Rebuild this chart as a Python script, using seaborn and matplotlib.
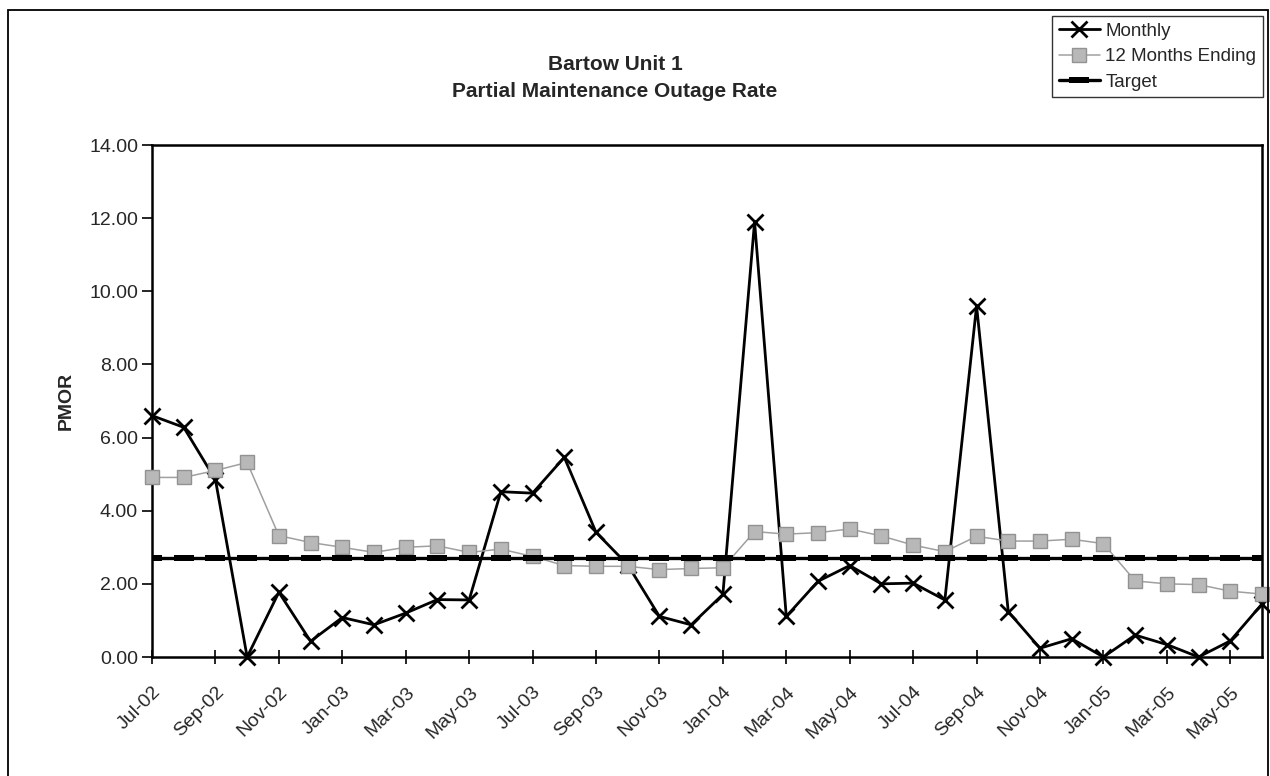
import pandas as pd
import matplotlib.pyplot as plt
import seaborn as sns
from matplotlib.patches import Rectangle

# Category axis: monthly, Jul-02 .. Jun-05
months = [
    'Jul-02', 'Aug-02', 'Sep-02', 'Oct-02', 'Nov-02', 'Dec-02',
    'Jan-03', 'Feb-03', 'Mar-03', 'Apr-03', 'May-03', 'Jun-03',
    'Jul-03', 'Aug-03', 'Sep-03', 'Oct-03', 'Nov-03', 'Dec-03',
    'Jan-04', 'Feb-04', 'Mar-04', 'Apr-04', 'May-04', 'Jun-04',
    'Jul-04', 'Aug-04', 'Sep-04', 'Oct-04', 'Nov-04', 'Dec-04',
    'Jan-05', 'Feb-05', 'Mar-05', 'Apr-05', 'May-05', 'Jun-05',
]

monthly = [
    6.60, 6.28, 4.85, 0.00, 1.77, 0.43,
    1.08, 0.88, 1.20, 1.57, 1.56, 4.52,
    4.48, 5.46, 3.41, 2.52, 1.11, 0.88,
    1.71, 11.90, 1.11, 2.07, 2.50, 2.00,
    2.02, 1.56, 9.60, 1.24, 0.24, 0.50,
    0.00, 0.60, 0.34, 0.00, 0.44, 1.45,
]

twelve_month = [
    4.91, 4.91, 5.10, 5.32, 3.32, 3.13,
    3.00, 2.86, 3.00, 3.04, 2.86, 2.95,
    2.75, 2.50, 2.48, 2.48, 2.39, 2.42,
    2.44, 3.43, 3.36, 3.40, 3.50, 3.31,
    3.06, 2.88, 3.30, 3.17, 3.17, 3.22,
    3.10, 2.08, 2.00, 1.98, 1.80, 1.72,
]

target_value = 2.72
target = [target_value] * len(months)

y_ticks = [0, 2, 4, 6, 8, 10, 12, 14]

df = pd.DataFrame({
    'pos': range(len(months)),
    'Month': months,
    'Monthly': monthly,
    '12 Months Ending': twelve_month,
    'Target': target,
})

sns.set_theme(style="white")
plt.rcParams['font.family'] = ['Liberation Sans', 'DejaVu Sans']

fig = plt.figure(figsize=(12.7, 7.76), dpi=100)
ax = fig.add_axes([152 / 1270, 1 - 657 / 776, (1262 - 152) / 1270, (657 - 145) / 776])

sns.lineplot(data=df, x='pos', y='Monthly', ax=ax, color='black', linewidth=2.0,
             marker='x', markersize=12, markeredgewidth=2.0, markeredgecolor='black',
             label='Monthly', zorder=3, clip_on=False)
sns.lineplot(data=df, x='pos', y='12 Months Ending', ax=ax, color='#a0a0a0', linewidth=1.1,
             marker='s', markersize=9.5, markerfacecolor='#b8b8b8', markeredgecolor='#929292',
             markeredgewidth=1.0, label='12 Months Ending', zorder=4, clip_on=False)
bar_marker = [(-1, -0.35), (1, -0.35), (1, 0.35), (-1, 0.35), (-1, -0.35)]
sns.lineplot(data=df, x='pos', y='Target', ax=ax, color='black', linewidth=2.4,
             marker=bar_marker, markersize=14, markeredgewidth=0, markerfacecolor='black',
             label='Target', zorder=5)

ax.set_xlim(0, len(months) - 1)
ax.set_ylim(0, 14)
ax.set_yticks(y_ticks)
ax.set_yticklabels([f'{v:.2f}' for v in y_ticks])
ax.set_xticks(df['pos'][::2])
ax.set_xticklabels(df['Month'][::2], rotation=45, ha='right', rotation_mode='anchor')

ax.tick_params(axis='y', direction='out', length=7, width=1.2, color='black',
               labelsize=14, pad=3, left=True)
ax.tick_params(axis='x', direction='inout', length=10, width=1.2, color='black',
               labelsize=14, pad=14, bottom=True)
ax.set_xlabel('')
ax.set_ylabel('PMOR', fontsize=14, fontweight='bold', labelpad=10)

for side in ['left', 'right', 'top', 'bottom']:
    ax.spines[side].set_visible(True)
    ax.spines[side].set_color('black')
    ax.spines[side].set_linewidth(1.8)

ax.legend_.remove()
handles, labels = ax.get_legend_handles_labels()
fig.legend(handles, labels, loc='upper right', bbox_to_anchor=(1263 / 1270, 1 - 16 / 776),
           frameon=True, fancybox=False, edgecolor='black', fontsize=13.5,
           handlelength=2.2, handletextpad=0.3, borderpad=0.35, labelspacing=0.45,
           borderaxespad=0.0)

fig.text(615 / 1270, 1 - 78 / 776, 'Bartow Unit 1\nPartial Maintenance Outage Rate',
         ha='center', va='center', fontsize=15, fontweight='bold', linespacing=1.55)

# outer chart-area frame
fig.patches.append(Rectangle((8 / 1270, -0.01), 1260 / 1270, 1 - 10 / 776 + 0.01,
                             transform=fig.transFigure, fill=False,
                             edgecolor='black', linewidth=1.3))

fig.savefig('out.png', dpi=100)
